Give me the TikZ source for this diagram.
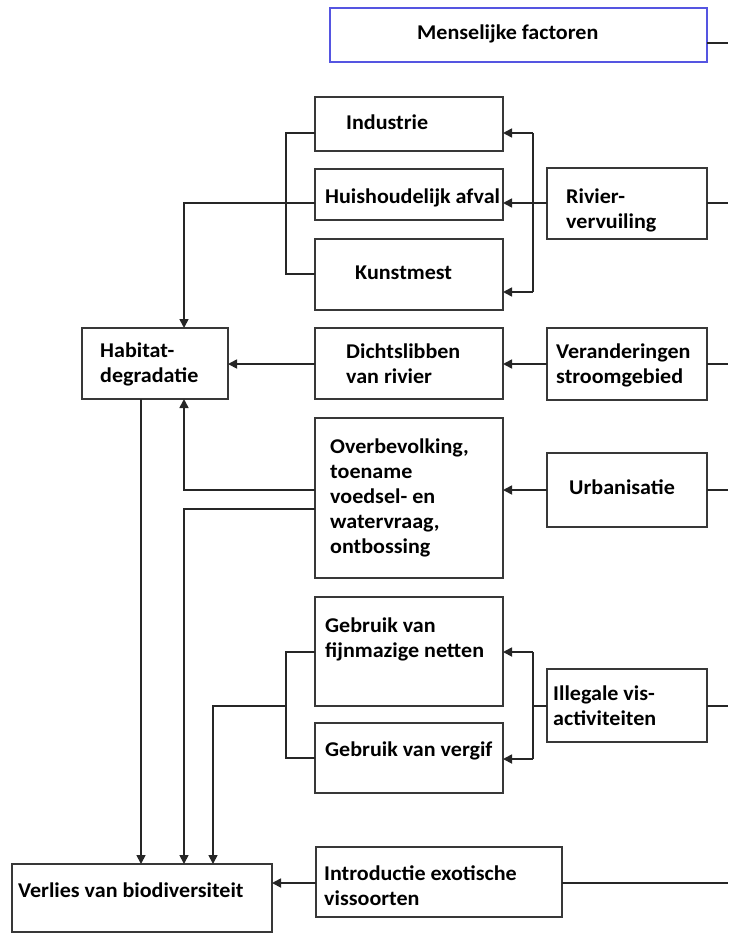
\documentclass[tikz,border=0pt]{standalone}
\usepackage{fontspec}
\setmainfont{Carlito}[FakeStretch=1.05]
\usetikzlibrary{arrows.meta}
\newcommand\mlines[1]{\parbox[t]{220pt}{\raggedright\baselineskip=25pt #1}}
\begin{document}
\begin{tikzpicture}[x=1pt,y=-1pt,
  box/.style={draw=black!78, line width=1.9pt, inner sep=0pt, outer sep=0pt, fill=white},
  bluebox/.style={box, draw={rgb,255:red,85;green,85;blue,225}},
  txt/.style={anchor=base west, inner sep=0pt, font=\fontsize{21}{25}\selectfont\bfseries, text=black},
  conn/.style={draw=black!85, line width=1.7pt},
  arr/.style={conn, -{Triangle[length=9pt,width=9pt]}}]
\useasboundingbox (0,0) rectangle (728,934);

% boxes
\node[bluebox, minimum width=377pt, minimum height=54pt] (mf) at (518.5,35) {};
\node[box, minimum width=188pt, minimum height=54pt] (ind) at (409,124) {};
\node[box, minimum width=188pt, minimum height=51pt] (hui) at (409,194.5) {};
\node[box, minimum width=188pt, minimum height=71pt] (kun) at (409,274.5) {};
\node[box, minimum width=160pt, minimum height=71pt] (riv) at (627,203.5) {};
\node[box, minimum width=146pt, minimum height=71pt] (hab) at (155,363.5) {};
\node[box, minimum width=188pt, minimum height=71pt] (dic) at (409,363.5) {};
\node[box, minimum width=160pt, minimum height=72pt] (ver) at (627,364) {};
\node[box, minimum width=188pt, minimum height=160pt] (ove) at (409,498) {};
\node[box, minimum width=160pt, minimum height=74pt] (urb) at (627,490) {};
\node[box, minimum width=188pt, minimum height=109pt] (geb) at (409,651.5) {};
\node[box, minimum width=188pt, minimum height=70pt] (vgf) at (409,758) {};
\node[box, minimum width=160pt, minimum height=73pt] (ill) at (627,705.5) {};
\node[box, minimum width=260pt, minimum height=68pt] (los) at (142,898) {};
\node[box, minimum width=246pt, minimum height=70pt] (int) at (439,882) {};

% texts
\node[txt] (tmf) at (417,40) {Menselijke factoren};
\node[txt] (tind) at (346,129) {Industrie};
\node[txt] (thui) at (325,203) {Huishoudelijk afval};
\node[txt] (tkun) at (355,279) {Kunstmest};
\node[txt] (triv) at (566,203) {\mlines{Rivier-\\vervuiling}};
\node[txt] (thab) at (100,357) {\mlines{Habitat-\\degradatie}};
\node[txt] (tdic) at (346,358) {\mlines{Dichtslibben\\van rivier}};
\node[txt] (tver) at (556,358) {\mlines{Veranderingen\\stroomgebied}};
\node[txt] (tove) at (330,453) {\mlines{Overbevolking,\\toename\\voedsel- en\\watervraag,\\ontbossing}};
\node[txt] (turb) at (569,494) {Urbanisatie};
\node[txt] (tgeb) at (325,632) {\mlines{Gebruik van\\fijnmazige netten}};
\node[txt] (tvgf) at (325,756) {Gebruik van vergif};
\node[txt] (till) at (553,700) {\mlines{Illegale vis-\\activiteiten}};
\node[txt] (tlos) at (18,897) {Verlies van biodiversiteit};
\node[txt] (tint) at (324,880) {\mlines{Introductie exotische\\vissoorten}};

% free ends on the right edge
\coordinate (e1) at (728,43);
\coordinate (e2) at (728,203);
\coordinate (e3) at (728,364);
\coordinate (e4) at (728,490);
\coordinate (e5) at (728,706);
\coordinate (e6) at (728,883);
\draw[conn] (mf.east |- e1) -- (e1);
\draw[conn] (riv.east |- e2) -- (e2);
\draw[conn] (ver.east |- e3) -- (e3);
\draw[conn] (urb.east |- e4) -- (e4);
\draw[conn] (ill.east |- e5) -- (e5);
\draw[conn] (int.east |- e6) -- (e6);

% river pollution group
\coordinate (rb) at (533,203);
\draw[conn] (riv.west |- rb) -- (rb);
\draw[conn] (533,133) -- (533,292);
\draw[arr] (533,133) -- (ind.east |- 0,133);
\draw[arr] (rb) -- (hui.east |- rb);
\draw[arr] (533,292) -- (kun.east |- 0,292);
\draw[conn] (ind.west |- 0,133) -- (286,133) -- (286,274) -- (kun.west |- 0,274);
\draw[arr] (hui.west |- 0,203) -- (184,203) -- (hab.north -| 184,0);

% river basin
\draw[arr] (ver.west |- 0,364) -- (dic.east |- 0,364);
\draw[arr] (dic.west |- 0,364) -- (hab.east |- 0,364);

% urbanisation
\draw[arr] (urb.west) -- (ove.east |- urb.west);
\draw[arr] (ove.west |- 0,490) -- (184,490) -- (hab.south -| 184,0);
\draw[arr] (ove.west |- 0,509) -- (184,509) -- (los.north -| 184,0);
\draw[arr] (hab.south -| 141,0) -- (los.north -| 141,0);

% illegal fishing
\coordinate (ib) at (533,706);
\draw[conn] (ill.west |- ib) -- (ib);
\draw[conn] (533,652) -- (533,759);
\draw[arr] (533,652) -- (geb.east |- 0,652);
\draw[arr] (533,759) -- (vgf.east |- 0,759);
\draw[conn] (geb.west |- 0,652) -- (286,652) -- (286,758) -- (vgf.west |- 0,758);
\draw[arr] (286,706) -- (213,706) -- (los.north -| 213,0);

% exotic species
\draw[arr] (int.west |- 0,883) -- (los.east |- 0,883);
\end{tikzpicture}
\end{document}
